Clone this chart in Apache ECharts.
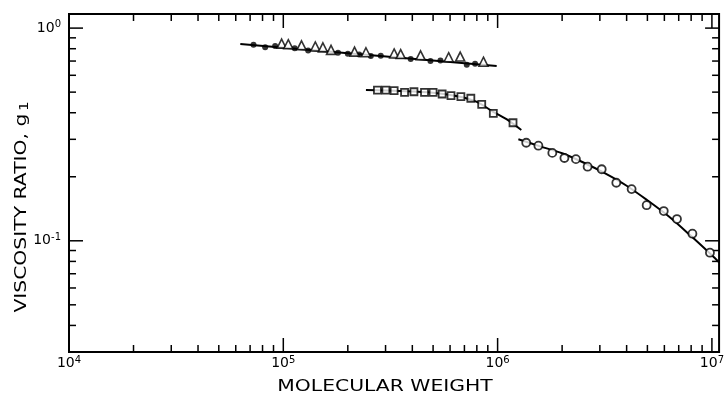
<!DOCTYPE html>
<html>
<head>
<meta charset="utf-8">
<script src="https://cdn.jsdelivr.net/npm/echarts@6/dist/echarts.min.js"></script>
<style>
  html, body { margin: 0; padding: 0; background: #fff; }
  #chart { width: 727px; height: 397px; }
</style>
</head>
<body>
<div id="chart"></div>
<script>
// upper branch: filled dots + open triangles, and their fitted line
const dotsA = [[7.26e4, 0.835], [8.23e4, 0.812], [9.16e4, 0.825], [1.13e5, 0.805], [1.306e5, 0.785],
    [1.80e5, 0.765], [2.0e5, 0.757], [2.26e5, 0.752], [2.56e5, 0.740], [2.85e5, 0.742],
    [3.93e5, 0.716], [4.86e5, 0.700], [5.41e5, 0.705], [7.18e5, 0.672], [7.85e5, 0.680]]
const trianglesA = [[9.82e4, 0.845], [1.055e5, 0.840], [1.216e5, 0.830], [1.41e5, 0.820], [1.53e5, 0.812],
    [1.67e5, 0.790], [2.15e5, 0.775], [2.43e5, 0.770], [3.29e5, 0.760], [3.53e5, 0.755],
    [4.37e5, 0.745], [5.91e5, 0.730], [6.69e5, 0.735], [8.59e5, 0.695]]
const curveA = [[6.3e4, 0.842], [2.5e5, 0.747], [9.9e5, 0.663]]

// middle branch: squares
const squaresB = [[2.75e5, 0.511], [3.01e5, 0.511], [3.29e5, 0.508], [3.68e5, 0.499], [4.07e5, 0.502],
    [4.56e5, 0.499], [5.0e5, 0.499], [5.51e5, 0.490], [6.06e5, 0.481], [6.74e5, 0.476],
    [7.5e5, 0.468], [8.43e5, 0.438], [9.55e5, 0.397], [1.18e6, 0.359]]
const curveB = [[2.43e5, 0.511], [3.5e5, 0.506], [5.0e5, 0.497], [6.5e5, 0.478], [8.0e5, 0.450],
    [9.5e5, 0.405], [1.1e6, 0.373], [1.29e6, 0.332]]

// lower branch: open circles
const circlesC = [[1.36e6, 0.289], [1.55e6, 0.280], [1.80e6, 0.259], [2.05e6, 0.245], [2.32e6, 0.242],
    [2.63e6, 0.223], [3.06e6, 0.217], [3.58e6, 0.1875], [4.22e6, 0.175], [4.96e6, 0.147],
    [5.96e6, 0.138], [6.87e6, 0.1265], [8.11e6, 0.108], [9.79e6, 0.0879]]
const curveC = [[1.25e6, 0.300], [1.58e6, 0.278], [2.0e6, 0.258], [2.5e6, 0.234], [3.16e6, 0.208],
    [4.0e6, 0.1815], [5.0e6, 0.155], [6.3e6, 0.130], [7.9e6, 0.1064], [1.0e7, 0.0855], [1.08e7, 0.0793]]

// axis decades (major ticks) and minor multipliers
const xDecades = [1e4, 1e5, 1e6, 1e7]
const yDecades = [0.01, 0.1, 1]
const minorSteps = [2, 3, 4, 5, 6, 7, 8, 9]

const xMin = 1e4, xMax = 1.08e7
const yMin = 0.03, yMax = 1.165
const font = 'DejaVu Sans'

const xTicks = []
xDecades.forEach(d => {
    if (d >= xMin && d <= xMax) xTicks.push([d, 1, 1])
    minorSteps.forEach(m => { if (d * m > xMin && d * m < xMax) xTicks.push([d * m, 1, 0]) })
})
const yTicks = []
yDecades.forEach(d => {
    if (d >= yMin && d <= yMax) yTicks.push([1e5, d, 1])
    minorSteps.forEach(m => { if (d * m > yMin && d * m < yMax) yTicks.push([1e5, d * m, 0]) })
})

const isPow10 = v => Math.abs(Math.log10(v) - Math.round(Math.log10(v))) < 1e-6
const powLabel = v => isPow10(v) ? '{b|10}{s|' + Math.round(Math.log10(v)) + '}' : ''
const labelRich = {
    b: { fontSize: 14, fontFamily: font, color: '#000', lineHeight: 17 },
    s: { fontSize: 10, fontFamily: font, color: '#000', verticalAlign: 'top', lineHeight: 11 }
}

const lineStyle = { color: '#000', width: 2 }

const chart = echarts.init(document.getElementById('chart'))
chart.setOption({
    animation: false,
    backgroundColor: '#fff',
    grid: {
        left: 69, right: 3, top: 14, bottom: 45,
        show: true, borderColor: '#000', borderWidth: 2, backgroundColor: 'transparent'
    },
    xAxis: {
        type: 'log', logBase: 10, min: xMin, max: xMax,
        axisLine: { show: false }, axisTick: { show: false }, splitLine: { show: false },
        axisLabel: { formatter: powLabel, rich: labelRich, margin: 3, showMaxLabel: false }
    },
    yAxis: {
        type: 'log', logBase: 10, min: yMin, max: yMax,
        axisLine: { show: false }, axisTick: { show: false }, splitLine: { show: false },
        axisLabel: { formatter: powLabel, rich: labelRich, margin: 8, showMinLabel: false, showMaxLabel: false }
    },
    // axis titles, stretched along the reading direction like the lettering in the original
    graphic: [
        {
            type: 'text', x: 385, y: 387, scaleX: 1.27, silent: true,
            style: {
                text: 'MOLECULAR WEIGHT', fontSize: 16, fontFamily: font, fill: '#000',
                align: 'center', verticalAlign: 'middle'
            }
        },
        {
            type: 'text', x: 22, y: 207, rotation: Math.PI / 2, scaleX: 1.27, silent: true,
            style: {
                text: 'VISCOSITY RATIO, g{sub|1}', fontSize: 16, fontFamily: font, fill: '#000',
                align: 'center', verticalAlign: 'middle',
                rich: { sub: { fontSize: 12, fontFamily: font, fill: '#000', verticalAlign: 'bottom', padding: [5, 0, 0, 2] } }
            }
        }
    ],
    series: [
        {
            type: 'custom', data: xTicks, silent: true, z: 1,
            renderItem: (params, api) => {
                const cs = params.coordSys
                const px = api.coord([api.value(0), 0.1])[0]
                const len = api.value(2) ? 14 : 7
                const bot = cs.y + cs.height
                return {
                    type: 'group', children: [
                        { type: 'line', shape: { x1: px, y1: bot, x2: px, y2: bot - len }, style: { stroke: '#000', lineWidth: 1.5 } },
                        { type: 'line', shape: { x1: px, y1: cs.y, x2: px, y2: cs.y + len }, style: { stroke: '#000', lineWidth: 1.5 } }
                    ]
                }
            }
        },
        {
            type: 'custom', data: yTicks, silent: true, z: 1,
            renderItem: (params, api) => {
                const cs = params.coordSys
                const py = api.coord([1e5, api.value(1)])[1]
                const len = api.value(2) ? 14 : 7
                const rgt = cs.x + cs.width
                return {
                    type: 'group', children: [
                        { type: 'line', shape: { x1: cs.x, y1: py, x2: cs.x + len, y2: py }, style: { stroke: '#000', lineWidth: 1.5 } },
                        { type: 'line', shape: { x1: rgt, y1: py, x2: rgt - len, y2: py }, style: { stroke: '#000', lineWidth: 1.5 } }
                    ]
                }
            }
        },
        { type: 'line', data: curveA, showSymbol: false, smooth: 0.3, lineStyle, z: 2 },
        { type: 'line', data: curveB, showSymbol: false, smooth: 0.3, lineStyle, z: 2 },
        { type: 'line', data: curveC, showSymbol: false, smooth: 0.3, lineStyle, z: 2 },
        {
            type: 'scatter', data: dotsA, symbol: 'circle', symbolSize: 6, z: 3,
            itemStyle: { color: '#000' }
        },
        {
            type: 'scatter', data: trianglesA, symbol: 'triangle', symbolSize: 9, z: 3,
            itemStyle: { color: '#fff', borderColor: '#000', borderWidth: 1.6 }
        },
        {
            type: 'scatter', data: squaresB, symbol: 'rect', symbolSize: 7, z: 3,
            itemStyle: { color: '#fff', borderColor: '#000', borderWidth: 1.8 }
        },
        {
            type: 'scatter', data: circlesC, symbol: 'circle', symbolSize: 8, z: 3,
            itemStyle: { color: '#fff', borderColor: '#000', borderWidth: 1.8 }
        }
    ]
})
</script>
</body>
</html>
